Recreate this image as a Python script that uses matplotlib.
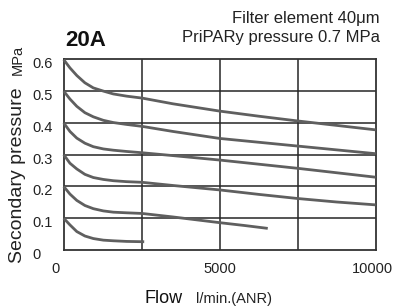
import matplotlib
matplotlib.use("Agg")
import matplotlib.pyplot as plt
from matplotlib.transforms import ScaledTranslation

plt.rcParams['font.family'] = ['Liberation Sans', 'DejaVu Sans']

flow_06 = [0, 200, 420, 680, 950, 1270, 1590, 2020, 2510, 3500, 5000, 6250, 7500, 8750, 10000]
pres_06 = [0.599, 0.573, 0.549, 0.526, 0.510, 0.500, 0.491, 0.484, 0.478, 0.460, 0.437, 0.421, 0.406, 0.392, 0.378]
flow_05 = [0, 200, 420, 680, 950, 1270, 1590, 2020, 2510, 3500, 5000, 6250, 7500, 8750, 10000]
pres_05 = [0.5, 0.475, 0.452, 0.432, 0.419, 0.408, 0.401, 0.395, 0.389, 0.373, 0.351, 0.339, 0.327, 0.315, 0.303]
flow_04 = [0, 200, 420, 680, 950, 1270, 1590, 2020, 2510, 3500, 5000, 6250, 7500, 8750, 10000]
pres_04 = [0.4, 0.373, 0.352, 0.336, 0.325, 0.318, 0.314, 0.310, 0.306, 0.297, 0.283, 0.270, 0.257, 0.243, 0.229]
flow_03 = [0, 200, 420, 680, 950, 1270, 1590, 2020, 2510, 3500, 5000, 6250, 7500, 8750, 10000]
pres_03 = [0.3, 0.273, 0.255, 0.238, 0.228, 0.222, 0.218, 0.215, 0.213, 0.203, 0.189, 0.175, 0.162, 0.151, 0.142]
flow_02 = [0, 200, 420, 680, 950, 1270, 1590, 2020, 2510, 3500, 5000, 5800, 6540]
pres_02 = [0.2, 0.176, 0.156, 0.140, 0.130, 0.123, 0.119, 0.117, 0.115, 0.104, 0.086, 0.077, 0.068]
flow_01 = [0, 200, 420, 680, 950, 1270, 1590, 2020, 2580]
pres_01 = [0.1, 0.079, 0.058, 0.044, 0.036, 0.031, 0.029, 0.027, 0.026]

x_ticks = [0, 5000, 10000]
x_tick_labels = ['0', '5000', '10000']
x_grid = [2500, 5000, 7500]
y_ticks = [0, 0.1, 0.2, 0.3, 0.4, 0.5, 0.6]
y_tick_labels = ['0', '0.1', '0.2', '0.3', '0.4', '0.5', '0.6']

W, H = 396, 307
fig = plt.figure(figsize=(W / 100, H / 100), dpi=100)
def fx(px): return px / W
def fy(py): return 1 - py / H

ax = fig.add_axes([fx(63.7), fy(250), fx(375.7) - fx(63.7), fy(59.3) - fy(250)])
ax.set_xlim(0, 10000)
ax.set_ylim(0, 0.6)

gc = '#262626'
for xv in x_grid:
    ax.axvline(xv, color=gc, lw=1.1, zorder=1)
for yv in y_ticks[1:-1]:
    ax.axhline(yv, color=gc, lw=1.1, zorder=1)
for s in ax.spines.values():
    s.set_color('#333333')
    s.set_linewidth(1.3)

cc = '#5f5f5f'
for fl, pr in [(flow_06, pres_06), (flow_05, pres_05), (flow_04, pres_04),
               (flow_03, pres_03), (flow_02, pres_02), (flow_01, pres_01)]:
    ax.plot(fl, pr, color=cc, lw=2.0, solid_capstyle='butt', solid_joinstyle='round',
            zorder=3, clip_on=False)

ax.set_xticks(x_ticks)
ax.set_xticklabels(x_tick_labels, fontsize=10.5, color='#222222')
ax.set_yticks(y_ticks)
ax.set_yticklabels(y_tick_labels, fontsize=10.5, color='#222222', ha='left')
ax.tick_params(axis='x', length=0, pad=8.5)
ax.tick_params(axis='y', length=0, pad=22.5)
for lab in ax.get_yticklabels():
    lab.set_transform(lab.get_transform() + ScaledTranslation(0, -2.5 / 72, fig.dpi_scale_trans))
xl = ax.get_xticklabels()
xl[0].set_transform(xl[0].get_transform() + ScaledTranslation(-8.5 / 100, 0, fig.dpi_scale_trans))
xl[-1].set_transform(xl[-1].get_transform() + ScaledTranslation(-3 / 100, 0, fig.dpi_scale_trans))

fig.text(fx(65), fy(46.5), '20A', fontsize=16, fontweight='bold', ha='left', va='baseline', color='#111111')
fig.text(fx(380), fy(22.5), 'Filter element 40μm', fontsize=12, ha='right', va='baseline', color='#222222')
fig.text(fx(380), fy(42), 'PriPARy pressure 0.7 MPa', fontsize=12, ha='right', va='baseline', color='#222222')

fig.text(fx(145), fy(303), 'Flow', fontsize=13, ha='left', va='baseline', color='#111111')
fig.text(fx(196), fy(303), 'l/min.(ANR)', fontsize=10.5, ha='left', va='baseline', color='#222222')

fig.text(fx(18), fy(175), 'Secondary pressure', fontsize=14, rotation=90, ha='center', va='center', color='#222222')
fig.text(fx(18), fy(60), 'MPa', fontsize=10.5, rotation=90, ha='center', va='center', color='#222222')

fig.savefig('out.png', dpi=100)
